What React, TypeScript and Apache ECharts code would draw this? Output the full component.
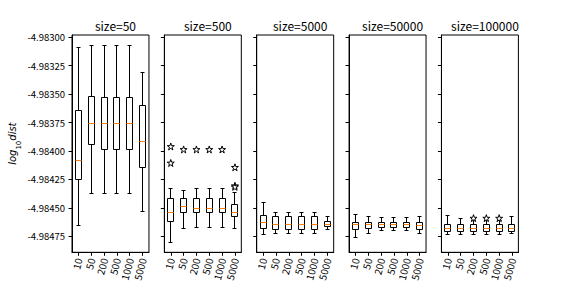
import React, { useEffect, useRef } from "react";
import * as echarts from "echarts";

const categories = ["10", "50", "200", "500", "1000", "5000"];
const panelTitles = ["size=50", "size=500", "size=5000", "size=50000", "size=100000"];
const yTicks = [-4.983, -4.98325, -4.9835, -4.98375, -4.984, -4.98425, -4.9845, -4.98475];
const yMin = -4.98489;
const yMax = -4.98298;

// each row: [whiskerLow, q1, median, q3, whiskerHigh]
const boxSize50 = [
  [-4.984656, -4.984254, -4.984082, -4.983648, -4.983094],
  [-4.984376, -4.983939, -4.983755, -4.983522, -4.98307],
  [-4.984376, -4.983983, -4.983755, -4.983531, -4.983076],
  [-4.984376, -4.983983, -4.983755, -4.983531, -4.983076],
  [-4.984376, -4.983983, -4.983755, -4.983531, -4.983076],
  [-4.984534, -4.984149, -4.983913, -4.983598, -4.983306],
];
const boxSize500 = [
  [-4.984803, -4.984621, -4.984543, -4.98442, -4.984333],
  [-4.984683, -4.984543, -4.984488, -4.98442, -4.98435],
  [-4.984674, -4.984543, -4.984502, -4.98442, -4.984333],
  [-4.984674, -4.984543, -4.984502, -4.98442, -4.984333],
  [-4.984674, -4.984543, -4.984502, -4.98442, -4.984333],
  [-4.984683, -4.984578, -4.984543, -4.984473, -4.984368],
];
const boxSize5000 = [
  [-4.984733, -4.984683, -4.98463, -4.984566, -4.984456],
  [-4.984724, -4.984692, -4.984648, -4.984578, -4.984537],
  [-4.984724, -4.984692, -4.984648, -4.984578, -4.984537],
  [-4.984724, -4.984692, -4.984648, -4.984578, -4.984537],
  [-4.984724, -4.984692, -4.984648, -4.984578, -4.984537],
  [-4.984692, -4.984665, -4.984648, -4.984621, -4.984578],
];
const boxSize50000 = [
  [-4.984762, -4.984692, -4.984648, -4.984625, -4.984558],
  [-4.984727, -4.984683, -4.984648, -4.984625, -4.984578],
  [-4.9847, -4.984671, -4.984648, -4.984625, -4.984587],
  [-4.9847, -4.984671, -4.984648, -4.984625, -4.984587],
  [-4.9847, -4.984671, -4.984648, -4.984625, -4.984587],
  [-4.984727, -4.984692, -4.984651, -4.984628, -4.984578],
];
const boxSize100000 = [
  [-4.984733, -4.984704, -4.984677, -4.984645, -4.984566],
  [-4.984733, -4.984704, -4.984677, -4.984645, -4.984595],
  [-4.984733, -4.984704, -4.984677, -4.984645, -4.98461],
  [-4.984733, -4.984704, -4.984677, -4.984645, -4.98461],
  [-4.984733, -4.984704, -4.984677, -4.984645, -4.98461],
  [-4.984727, -4.984704, -4.984677, -4.984645, -4.984575],
];
// outliers: [categoryIndex, value]
const outliers50: number[][] = [];
const outliers500 = [
  [0, -4.98396], [0, -4.984105],
  [1, -4.983986], [2, -4.983986], [3, -4.983986], [4, -4.983986],
  [5, -4.984143], [5, -4.984305], [5, -4.984315],
];
const outliers5000: number[][] = [];
const outliers50000: number[][] = [];
const outliers100000 = [[2, -4.98459], [3, -4.98459], [4, -4.98459]];

const boxes = [boxSize50, boxSize500, boxSize5000, boxSize50000, boxSize100000];
const fliers = [outliers50, outliers500, outliers5000, outliers50000, outliers100000];

const STAR =
  "path://M50,0 L61.8,35.5 L100,35.5 L69.1,57.6 L80.9,93.5 L50,71.4 L19.1,93.5 L30.9,57.6 L0,35.5 L38.2,35.5 Z";

const FONT = "'Noto Sans CJK SC', 'DejaVu Sans', sans-serif";

const px = (v: number) => Math.round(v - 0.5) + 0.5;

export default function App() {
  const ref = useRef<HTMLDivElement>(null);
  useEffect(() => {
    if (!ref.current) return;
    const chart = echarts.init(ref.current, null, { renderer: "svg" });
    const figLeft = 72;
    const figRight = 518.4;
    const n = 5;
    const w = (figRight - figLeft) / (n + (n - 1) * 0.2);
    const gap = w * 0.2;
    const top = 35;
    const bottom = 252.3;

    const grids = [] as any[];
    const xAxes = [] as any[];
    const yAxes = [] as any[];
    const series = [] as any[];
    const titles = [] as any[];

    for (let i = 0; i < n; i++) {
      const left = figLeft + i * (w + gap);
      grids.push({
        left,
        top,
        width: w,
        height: bottom - top,
        show: true,
        borderColor: "#000",
        borderWidth: 1,
        backgroundColor: "transparent",
      });
      titles.push({
        text: panelTitles[i],
        left: left + w / 2,
        top: 14,
        textAlign: "center",
        textStyle: { fontFamily: FONT, fontSize: 12, fontWeight: "normal", color: "#000" },
      });
      xAxes.push({
        type: "category",
        gridIndex: i,
        data: categories,
        boundaryGap: true,
        axisLine: { show: true, lineStyle: { color: "#000", width: 1 } },
        axisTick: { show: true, alignWithLabel: true, interval: 0, length: 3.5, lineStyle: { color: "#000" } },
        axisLabel: { interval: 0, rotate: 75, fontSize: 10, fontFamily: FONT, color: "#000", margin: 6 },
        splitLine: { show: false },
      });
      yAxes.push({
        type: "value",
        gridIndex: i,
        min: yMin,
        max: yMax,
        axisLine: { show: true, lineStyle: { color: "#000", width: 1 } },
        axisTick: { show: true, length: 3.5, customValues: yTicks, lineStyle: { color: "#000" } },
        axisLabel: {
          show: i === 0,
          customValues: yTicks,
          formatter: (v: number) => v.toFixed(5),
          fontSize: 9.5,
          fontFamily: FONT,
          color: "#000",
          margin: 7,
        },
        splitLine: { show: false },
        name: i === 0 ? "{i|log}{s|10}{i|dist}" : "",
        nameLocation: "middle",
        nameRotate: 90,
        nameGap: 50,
        nameTextStyle: {
          rich: {
            i: { fontStyle: "italic", fontSize: 10, fontFamily: "DejaVu Sans", color: "#000", lineHeight: 15, verticalAlign: "top" },
            s: { fontSize: 7, fontFamily: "DejaVu Sans", color: "#000", lineHeight: 15, verticalAlign: "bottom" },
          },
        },
      });
      series.push({
        type: "custom",
        xAxisIndex: i,
        yAxisIndex: i,
        encode: { x: 0, y: [1, 2, 3, 4, 5] },
        data: boxes[i].map((b, k) => [k, ...b]),
        renderItem: (params: any, api: any) => {
          const x = api.value(0);
          const lo = px(api.coord([x, api.value(1)])[1]);
          const q1 = px(api.coord([x, api.value(2)])[1]);
          const med = px(api.coord([x, api.value(3)])[1]);
          const q3 = px(api.coord([x, api.value(4)])[1]);
          const hi = px(api.coord([x, api.value(5)])[1]);
          const band = api.size([1, 0])[0];
          const bw = Math.round(band * 0.5);
          const cw = Math.round(bw * 0.5);
          const cx = px(api.coord([x, api.value(1)])[0]);
          const st = { stroke: "#000", lineWidth: 1, fill: "none" };
          const bl = cx - Math.round(bw / 2);
          return {
            type: "group",
            children: [
              { type: "line", shape: { x1: cx, y1: q1, x2: cx, y2: lo }, style: st },
              { type: "line", shape: { x1: cx, y1: q3, x2: cx, y2: hi }, style: st },
              { type: "line", shape: { x1: cx - cw / 2 - 0.5, y1: lo, x2: cx + cw / 2 + 0.5, y2: lo }, style: st },
              { type: "line", shape: { x1: cx - cw / 2 - 0.5, y1: hi, x2: cx + cw / 2 + 0.5, y2: hi }, style: st },
              { type: "rect", shape: { x: bl, y: q3, width: bw, height: q1 - q3 }, style: st },
              { type: "line", shape: { x1: bl, y1: med, x2: bl + bw, y2: med }, style: { stroke: "#ff7f0e", lineWidth: 1 } },
            ],
          };
        },
      });
      series.push({
        type: "scatter",
        xAxisIndex: i,
        yAxisIndex: i,
        data: fliers[i],
        symbol: STAR,
        symbolSize: 7,
        itemStyle: { color: "#fff", borderColor: "#000", borderWidth: 1, opacity: 1 },
      });
    }

    chart.setOption({
      animation: false,
      backgroundColor: "#fff",
      title: titles,
      grid: grids,
      xAxis: xAxes,
      yAxis: yAxes,
      series,
    });
    return () => chart.dispose();
  }, []);
  return <div ref={ref} style={{ position: "fixed", left: 0, top: 0, width: 576, height: 288 }} />;
}
